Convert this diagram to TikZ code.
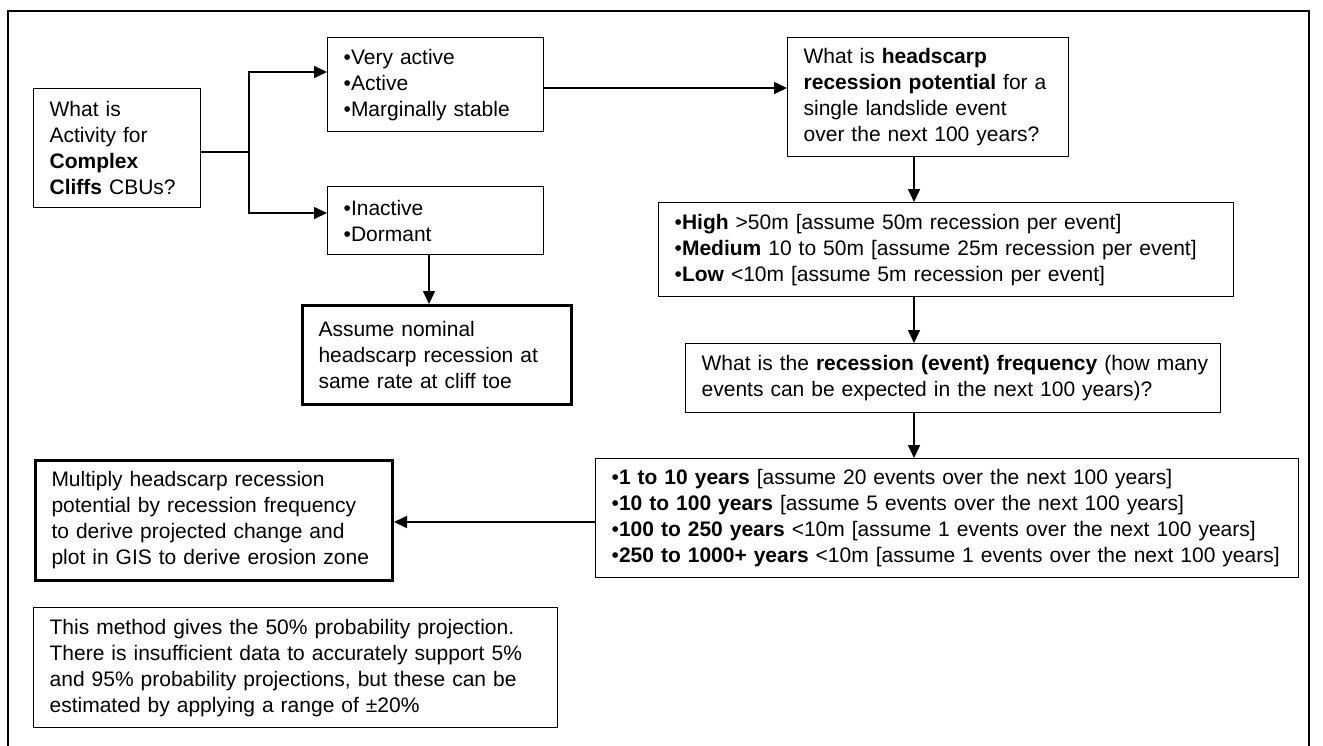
\documentclass[tikz,border=0pt]{standalone}
\usepackage{fontspec}
\setmainfont{Liberation Sans}
\usetikzlibrary{arrows.meta}
\tikzset{
  box/.style={draw=black, line width=1.3pt, anchor=north west, align=left,
    inner xsep=16pt, inner ysep=0pt, font=\fontsize{21}{26}\selectfont},
  thickbox/.style={box, line width=3pt},
  conn/.style={draw=black, line width=1.6pt},
  arr/.style={conn, -{Triangle[length=13pt,width=12pt]}},
}
\newcommand{\nb}[1]{\mbox{#1}}
\newcommand{\mkbox}[7]{% style, name, x, y, w, h, text
  \node[#1, minimum width=#5pt, minimum height=#6pt, text width=#5pt-32pt] (#2) at (#3,#4) {#7};}
\begin{document}
\begin{tikzpicture}[x=1pt,y=-1pt]
\useasboundingbox (0,0) rectangle (1323,745);
\fill[white] (0,0) rectangle (1323,745);
% outer frame (open at bottom)
\draw[line width=2pt] (8,760) -- (8,11) -- (1309,11) -- (1309,760);

\mkbox{box}{Q1}{33}{88}{167}{119}{\nb{What is}\\\nb{Activity for}\\\nb{\textbf{Complex}}\\\nb{\textbf{Cliffs} CBUs?}}
\mkbox{box}{A1}{327}{37}{216}{94}{\nb{•Very active}\\\nb{•Active}\\\nb{•Marginally stable}}
\mkbox{box}{A2}{327}{186}{216}{68}{\nb{•Inactive}\\\nb{•Dormant}}
\mkbox{thickbox}{A3}{301}{304}{269}{99}{\nb{Assume nominal}\\\nb{headscarp recession at}\\\nb{same rate at cliff toe}}
\mkbox{box}{Q2}{787}{37}{281}{119}{\nb{What is \textbf{headscarp}}\\\nb{\textbf{recession potential} for a}\\\nb{single landslide event}\\\nb{over the next 100 years?}}
\mkbox{box}{B1}{658}{202}{575}{94}{\nb{•\textbf{High} >50m [assume 50m recession per event]}\\\nb{•\textbf{Medium} 10 to 50m [assume 25m recession per event]}\\\nb{•\textbf{Low} <10m [assume 5m recession per event]}}
\mkbox{box}{Q3}{685}{343}{535}{69}{\nb{What is the \textbf{recession (event) frequency} (how many}\\\nb{events can be expected in the next 100 years)?}}
\mkbox{box}{B2}{595}{458}{703}{119}{\nb{•\textbf{1 to 10 years} [assume 20 events over the next 100 years]}\\\nb{•\textbf{10 to 100 years} [assume 5 events over the next 100 years]}\\\nb{•\textbf{100 to 250 years} <10m [assume 1 events over the next 100 years]}\\\nb{•\textbf{250 to 1000+ years} <10m [assume 1 events over the next 100 years]}}
\mkbox{thickbox}{C1}{34}{459}{357}{120}{\nb{Multiply headscarp recession}\\\nb{potential by recession frequency}\\\nb{to derive projected change and}\\\nb{plot in GIS to derive erosion zone}}
\mkbox{box}{C2}{33}{607}{524}{120}{\nb{This method gives the 50\% probability projection.}\\\nb{There is insufficient data to accurately support 5\%}\\\nb{and 95\% probability projections, but these can be}\\\nb{estimated by applying a range of ±20\%}}

% connectors
\coordinate (j) at (249,152);
\coordinate (xa) at (429,0);
\coordinate (xb) at (914,0);
\coordinate (ya) at (0,72);
\coordinate (yb) at (0,213);
\coordinate (yc) at (0,88);
\coordinate (yd) at (0,522);
\draw[conn] (Q1.east |- j) -- (j);
\draw[arr] (j) |- (A1.west |- ya);
\draw[arr] (j) |- (A2.west |- yb);
\draw[arr] (A1.east |- yc) -- (Q2.west |- yc);
\draw[arr] (A2.south -| xa) -- (A3.north -| xa);
\draw[arr] (Q2.south -| xb) -- (B1.north -| xb);
\draw[arr] (B1.south -| xb) -- (Q3.north -| xb);
\draw[arr] (Q3.south -| xb) -- (B2.north -| xb);
\draw[arr] (B2.west |- yd) -- (C1.east |- yd);
\end{tikzpicture}
\end{document}
